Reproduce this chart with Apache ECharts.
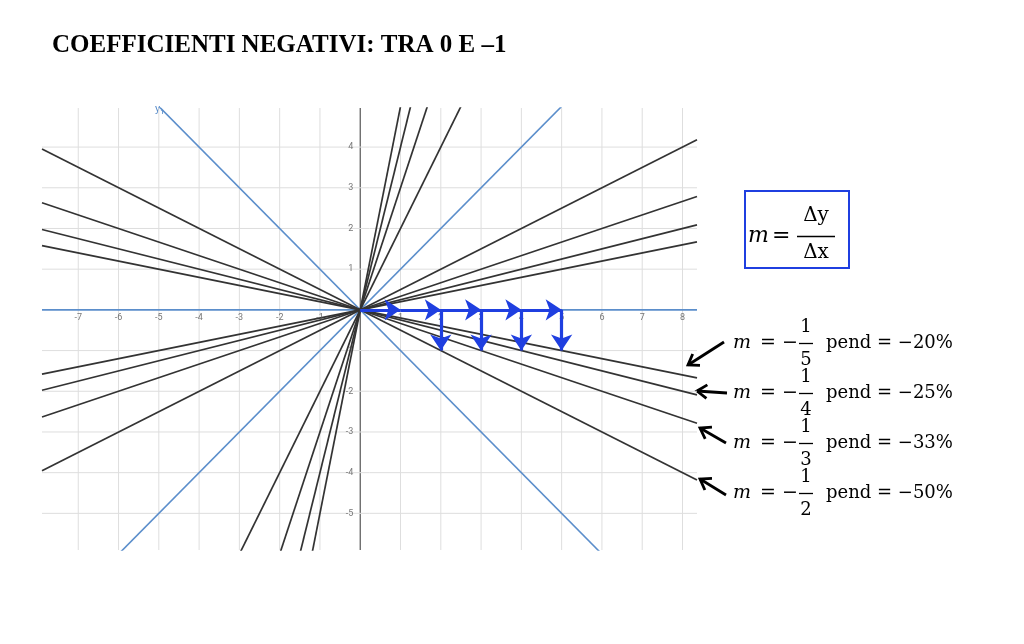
<!DOCTYPE html>
<html><head><meta charset="utf-8">
<script src="https://cdn.jsdelivr.net/npm/echarts@6/dist/echarts.min.js"></script>
<style>html,body{margin:0;padding:0;background:#fff}#c{width:1024px;height:644px}</style>
</head><body><div id="c"></div>
<script>
const xTicks=[-7,-6,-5,-4,-3,-2,-1,1,2,3,4,5,6,7,8];
const yTicks=[-5,-4,-3,-2,-1,1,2,3,4];
const blackSlopes=[0.2,0.25,1/3,0.5,-0.2,-0.25,-1/3,-0.5,2,3,4,5];
const blueSlopes=[1,-1,0];
const hArrows=[[0,1],[1,2],[2,3],[3,4],[4,5]];
const vArrows=[2,3,4,5];
const vDrop=-1;
const labelRows=[{d:'5',p:'−20%'},{d:'4',p:'−25%'},{d:'3',p:'−33%'},{d:'2',p:'−50%'}];
const XMIN=-7.9,XMAX=8.36,YMIN=-5.9,YMAX=4.96;

const series=[];
xTicks.concat([0]).forEach(x=>series.push({type:'line',data:[[x,YMIN],[x,YMAX]],symbol:'none',silent:true,
  lineStyle:{color:x===0?'#555':'#dedede',width:x===0?1.2:1},z:1}));
yTicks.forEach(y=>series.push({type:'line',data:[[XMIN,y],[XMAX,y]],symbol:'none',silent:true,lineStyle:{color:'#dedede',width:1},z:1}));
blackSlopes.forEach(m=>series.push({type:'line',data:[[XMIN,m*XMIN],[XMAX,m*XMAX]],symbol:'none',lineStyle:{color:'#333',width:1.7},z:3}));
blueSlopes.forEach(m=>series.push({type:'line',data:[[XMIN,m*XMIN],[XMAX,m*XMAX]],symbol:'none',lineStyle:{color:'#5b8ecb',width:1.6},z:2}));
series.push({type:'scatter',symbolSize:0,data:xTicks.map(x=>[x,0]),label:{show:true,position:'bottom',distance:3,formatter:p=>p.value[0],color:'#555',fontSize:9,fontFamily:'Roboto'},z:4});
series.push({type:'scatter',symbolSize:0,data:yTicks.map(y=>[0,y]),label:{show:true,position:'left',distance:7,formatter:p=>p.value[1],color:'#555',fontSize:9,fontFamily:'Roboto'},z:4});
const arrowData=hArrows.map(a=>({coords:[[a[0],0],[a[1],0]]})).concat(vArrows.map(x=>({coords:[[x,0],[x,vDrop]]})));
series.push({type:'lines',coordinateSystem:'cartesian2d',data:arrowData,symbol:['none','arrow'],symbolSize:[14,16],
  lineStyle:{color:'#1f3fe0',width:3.2,opacity:1},z:6});

const gr=[{type:'text',left:52,top:33,style:{text:'COEFFICIENTI NEGATIVI: TRA 0 E –1',font:'bold 25px "Liberation Serif"',fill:'#000'}},
 {type:'text',left:155,top:104,style:{text:'y₁',font:'11px Roboto',fill:'#5b8ecb'}},
 {type:'rect',shape:{x:745,y:191,width:104,height:77},style:{fill:'#fff',stroke:'#1f3fe0',lineWidth:2}},
 {type:'text',x:748,y:236,style:{text:'m',font:'italic 22px "DejaVu Serif"',verticalAlign:'middle',fill:'#000'}},
 {type:'text',x:772,y:236,style:{text:'=',font:'22px "DejaVu Serif"',verticalAlign:'middle',fill:'#000'}},
 {type:'text',x:816,y:216,style:{text:'Δy',font:'20px "DejaVu Serif"',align:'center',verticalAlign:'middle',fill:'#000'}},
 {type:'line',shape:{x1:797,y1:236.5,x2:835,y2:236.5},style:{stroke:'#000',lineWidth:1.5}},
 {type:'text',x:816,y:253,style:{text:'Δx',font:'20px "DejaVu Serif"',align:'center',verticalAlign:'middle',fill:'#000'}}];
const arrows=[[724,342,688,365],[727,393,697,391],[726,443,700,428],[726,495,700,479]];
labelRows.forEach((r,i)=>{
  const cy=343+50*i;
  gr.push({type:'text',x:733,y:cy,style:{text:'m',font:'italic 19px "DejaVu Serif"',verticalAlign:'middle',fill:'#000'}});
  gr.push({type:'text',x:760,y:cy,style:{text:'= −',font:'19px "DejaVu Serif"',verticalAlign:'middle',fill:'#000'}});
  gr.push({type:'text',x:806,y:cy-16,style:{text:'1',font:'18px "DejaVu Serif"',align:'center',verticalAlign:'middle',fill:'#000'}});
  gr.push({type:'line',shape:{x1:799,y1:cy+0.5,x2:813,y2:cy+0.5},style:{stroke:'#000',lineWidth:1.3}});
  gr.push({type:'text',x:806,y:cy+17,style:{text:r.d,font:'18px "DejaVu Serif"',align:'center',verticalAlign:'middle',fill:'#000'}});
  gr.push({type:'text',x:826,y:cy,style:{text:'pend = '+r.p,font:'18px "DejaVu Serif"',verticalAlign:'middle',fill:'#000'}});
  const a=arrows[i];const ang=Math.atan2(a[3]-a[1],a[2]-a[0]);const L=12;
  gr.push({type:'line',shape:{x1:a[0],y1:a[1],x2:a[2],y2:a[3]},style:{stroke:'#000',lineWidth:2.8}});
  gr.push({type:'polyline',shape:{points:[[a[2]-L*Math.cos(ang-0.6),a[3]-L*Math.sin(ang-0.6)],[a[2],a[3]],[a[2]-L*Math.cos(ang+0.6),a[3]-L*Math.sin(ang+0.6)]]},style:{stroke:'#000',lineWidth:2.8,fill:'none'}});
});

const chart=echarts.init(document.getElementById('c'));
chart.setOption({animation:false,backgroundColor:'#fff',
 grid:{left:42,right:327,top:108,bottom:94},
 xAxis:{type:'value',min:XMIN,max:XMAX,show:false},
 yAxis:{type:'value',min:YMIN,max:YMAX,show:false},
 series:series,graphic:gr});
</script></body></html>
